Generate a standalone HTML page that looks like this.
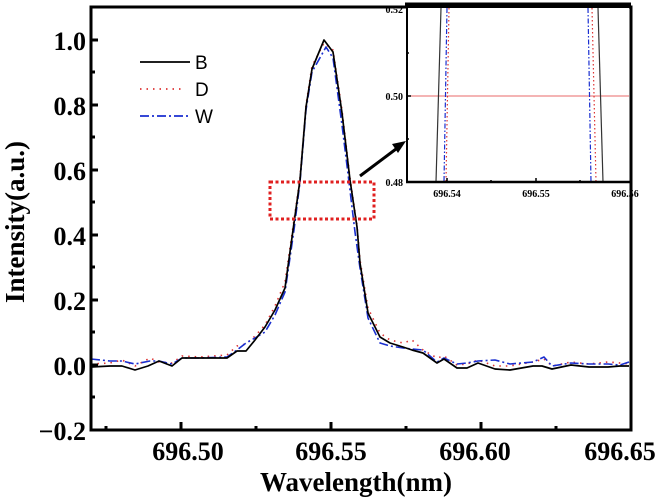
<!DOCTYPE html>
<html><head><meta charset="utf-8"><style>
html,body{margin:0;padding:0;background:#fff;}
svg{display:block;}
.t{font-family:"Liberation Serif",serif;font-weight:bold;}
</style></head><body>
<svg width="669" height="503" viewBox="0 0 669 503" xmlns="http://www.w3.org/2000/svg">
<rect width="669" height="503" fill="#fff"/>
<g fill="none" stroke-linejoin="round">
<polyline stroke="#d33" stroke-width="1.6" stroke-dasharray="1.5 5" points="91,364 110,363 122,360 135,366 150,358 159,362 172,363 182,356 200,357 227,355 237,346 246,344 255,336 265,325 275,306 285,282 294,220 300,178 306,105 312,66 324,43 333,50 342,110 350,178 357,225 360,260 368,308 380,333 390,340 403,343 412,340 423,350 437,358 444,356 457,365 467,364 478,360 495,366 510,366 533,362 544,359 552,366 571,362 589,364 608,362 620,363 629,364"/>
<polyline stroke="#1a2fd0" stroke-width="1.6" stroke-dasharray="9 3 2 3" points="91,359 110,361 122,361 135,364 150,361 159,361 172,364 182,358 200,358 227,357 237,350 246,343 255,338 265,332 275,315 285,292 294,230 300,182 306,110 312,72 326,47 333,58 342,125 349,182 355,232 360,268 368,318 380,343 390,346 403,348 412,349 423,350 437,362 444,358 457,364 467,363 478,361 495,360 510,364 533,362 544,357 552,366 571,363 589,364 608,364 620,365 629,362"/>
<polyline stroke="#000" stroke-width="1.7" points="91,367 110,366 122,366 135,370 148,366 159,361 172,366 182,358 200,358 227,358 237,351 246,351 255,340 265,327 275,310 285,288 294,223 300,180 306,107 312,69 324,40 333,52 342,113 350,180 357,227 360,263 368,313 380,337 390,343 403,347 412,350 423,353 437,363 444,359 457,368 467,368 478,363 495,369 510,370 533,366 542,366 552,369 571,365 589,367 608,367 620,366 629,366"/>
</g>
<rect x="270" y="182" width="104" height="37" fill="none" stroke="#e02020" stroke-width="3" stroke-dasharray="3 2.5"/>
<line x1="360" y1="176" x2="396" y2="149" stroke="#000" stroke-width="3"/>
<polygon points="406,141 392,144 398,153" fill="#000"/>
<rect x="91" y="7" width="540" height="423" fill="none" stroke="#000" stroke-width="3"/>
<g stroke="#000" stroke-width="3">
<line x1="91" y1="40" x2="98" y2="40"/><line x1="91" y1="105" x2="98" y2="105"/><line x1="91" y1="170" x2="98" y2="170"/><line x1="91" y1="235" x2="98" y2="235"/><line x1="91" y1="300" x2="98" y2="300"/><line x1="91" y1="365" x2="98" y2="365"/>
<line x1="91" y1="72" x2="95" y2="72"/><line x1="91" y1="137" x2="95" y2="137"/><line x1="91" y1="202" x2="95" y2="202"/><line x1="91" y1="267" x2="95" y2="267"/><line x1="91" y1="332" x2="95" y2="332"/><line x1="91" y1="397" x2="95" y2="397"/>
<line x1="181" y1="430" x2="181" y2="422"/><line x1="331" y1="430" x2="331" y2="422"/><line x1="481" y1="430" x2="481" y2="422"/>
<line x1="106" y1="430" x2="106" y2="426"/><line x1="256" y1="430" x2="256" y2="426"/><line x1="406" y1="430" x2="406" y2="426"/><line x1="556" y1="430" x2="556" y2="426"/>
</g>
<g class="t" font-size="26" text-anchor="end" fill="#000">
<text x="86" y="50">1.0</text><text x="86" y="115">0.8</text><text x="86" y="180">0.6</text><text x="86" y="245">0.4</text><text x="86" y="310">0.2</text><text x="86" y="375">0.0</text><text x="86" y="440">−0.2</text>
</g>
<g class="t" font-size="26" text-anchor="middle" fill="#000">
<text x="188" y="460">696.50</text><text x="331" y="460">696.55</text><text x="475" y="460">696.60</text><text x="620" y="460">696.65</text>
<text x="356" y="491" font-size="27">Wavelength(nm)</text>
<text transform="translate(24,222) rotate(-90)" font-size="27">Intensity(a.u.)</text>
</g>
<g font-family="'Liberation Sans',sans-serif" font-size="19" fill="#000">
<line x1="140" y1="62" x2="190" y2="62" stroke="#000" stroke-width="1.8"/>
<text x="195" y="69">B</text>
<line x1="140" y1="89" x2="184" y2="89" stroke="#d33" stroke-width="1.8" stroke-dasharray="1.5 5"/>
<text x="195" y="96">D</text>
<line x1="140" y1="116" x2="190" y2="116" stroke="#1a2fd0" stroke-width="1.8" stroke-dasharray="9 3 2 3"/>
<text x="195" y="123">W</text>
</g>
<rect x="407" y="8" width="222" height="174" fill="#fff"/>
<line x1="407" y1="96" x2="629" y2="96" stroke="#e88" stroke-width="1.2"/>
<g fill="none">
<polyline stroke="#333" stroke-width="1.2" points="441,8 436,182"/>
<polyline stroke="#333" stroke-width="1.2" points="598,8 603,182"/>
<polyline stroke="#1a2fd0" stroke-width="1.2" stroke-dasharray="5 2 1.5 2" points="447,8 444,182"/>
<polyline stroke="#1a2fd0" stroke-width="1.2" stroke-dasharray="5 2 1.5 2" points="588,8 591,182"/>
<polyline stroke="#d33" stroke-width="1.2" stroke-dasharray="1.5 2.5" points="449,8 446,182"/>
<polyline stroke="#d33" stroke-width="1.2" stroke-dasharray="1.5 2.5" points="592,8 596,182"/>
</g>
<line x1="407" y1="8" x2="407" y2="183" stroke="#000" stroke-width="2"/>
<line x1="406" y1="182" x2="631" y2="182" stroke="#000" stroke-width="2.5"/>
<line x1="405" y1="5" x2="631" y2="5" stroke="#000" stroke-width="5"/>
<g stroke="#000" stroke-width="1.5">
<line x1="407" y1="96" x2="411" y2="96"/><line x1="407" y1="53" x2="409" y2="53"/><line x1="407" y1="139" x2="409" y2="139"/>
<line x1="447" y1="182" x2="447" y2="178"/><line x1="536" y1="182" x2="536" y2="178"/><line x1="491" y1="182" x2="491" y2="180"/><line x1="580" y1="182" x2="580" y2="180"/>
</g>
<g class="t" font-size="10" fill="#000">
<text x="403" y="13" text-anchor="end">0.52</text>
<text x="403" y="100" text-anchor="end">0.50</text>
<text x="403" y="186" text-anchor="end">0.48</text>
<text x="447" y="197" text-anchor="middle">696.54</text>
<text x="536" y="197" text-anchor="middle">696.55</text>
<text x="625" y="197" text-anchor="middle">696.56</text>
</g>
<line x1="631" y1="7" x2="631" y2="430" stroke="#000" stroke-width="3"/>
</svg>
</body></html>
